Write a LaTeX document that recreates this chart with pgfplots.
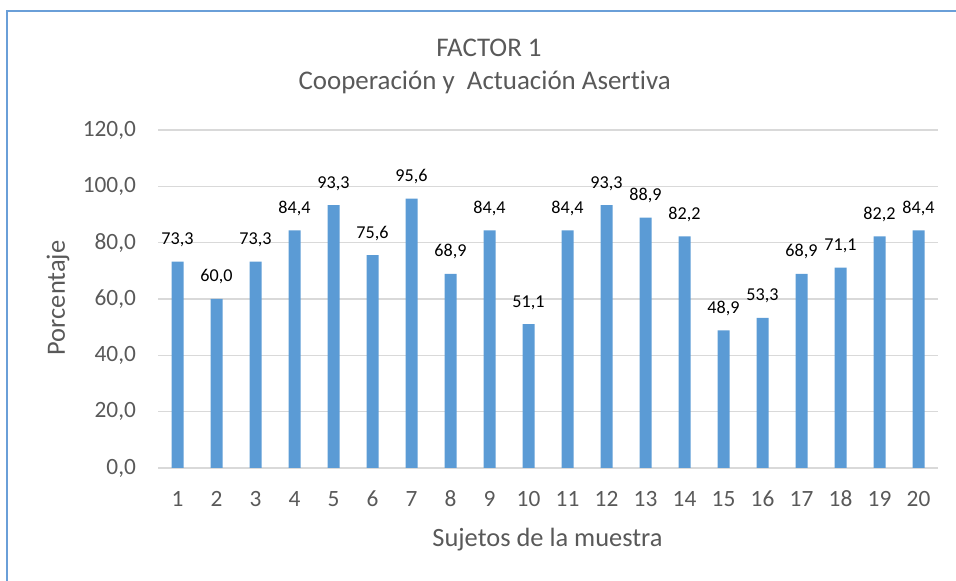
\documentclass[border=0pt]{standalone}
\usepackage{pgfplots}
\pgfplotsset{compat=1.18}
\usepackage{fontspec}
\setmainfont{Carlito}[Ligatures=NoCommon]
\definecolor{barblue}{HTML}{5B9BD5}
\definecolor{txtgray}{HTML}{595959}
\definecolor{gridgray}{HTML}{D9D9D9}
\definecolor{framebl}{HTML}{6A9FD8}
\begin{document}
\begin{tikzpicture}
\path[use as bounding box] (0,0) rectangle (717pt,435.75pt);
\draw[framebl, line width=1.2pt] (5.25pt,-2pt) -- (5.25pt,427.5pt) -- (720pt,427.5pt);
\node[txtgray, font=\fontsize{20.2pt}{24pt}\selectfont] at (366.75pt,399.75pt) {FACTOR 1};
\node[txtgray, font=\fontsize{20.2pt}{24pt}\selectfont] at (363.5pt,374.25pt) {Cooperación y\ \ Actuación Asertiva};
\node[txtgray, font=\fontsize{19.8pt}{24pt}\selectfont, rotate=90] at (43.5pt,212.25pt) {Porcentaje};
\node[txtgray, font=\fontsize{19.8pt}{24pt}\selectfont] at (410.6pt,30.75pt) {Sujetos de la muestra};
\begin{axis}[
  at={(118.5pt,84.75pt)}, anchor=south west,
  scale only axis, width=585pt, height=253.5pt,
  xmin=0.5, xmax=20.5, ymin=0, ymax=120,
  ytick={0,20,...,120},
  xtick={1,...,20},
  xticklabels={1,2,3,4,5,6,7,8,9,10,11,12,13,14,15,16,17,18,19,20},
  axis line style={draw=none},
  major tick length=0pt,
  ymajorgrids, grid style={gridgray, line width=0.9pt},
  /pgf/number format/.cd, fixed, fixed zerofill, precision=1, use comma, assume math mode=true,
  /pgfplots/.cd,
  ticklabel style={txtgray, font=\fontsize{17.5pt}{20pt}\selectfont},
  yticklabel style={xshift=-13pt},
  xticklabel style={anchor=base, inner sep=0pt, yshift=-29.25pt},
  ybar, bar width=9pt,
  clip=false,
  nodes near coords,
  every node near coord/.append style={black, font=\fontsize{13.6pt}{16pt}\selectfont, anchor=base, inner sep=0pt, yshift=12.75pt},
]
\addplot[fill=barblue, draw=none] coordinates {
(1,73.3) (2,60.0) (3,73.3) (4,84.4) (5,93.3) (6,75.6) (7,95.6) (8,68.9) (9,84.4) (10,51.1)
(11,84.4) (12,93.3) (13,88.9) (14,82.2) (15,48.9) (16,53.3) (17,68.9) (18,71.1) (19,82.2) (20,84.4)};
\end{axis}
\end{tikzpicture}
\end{document}
